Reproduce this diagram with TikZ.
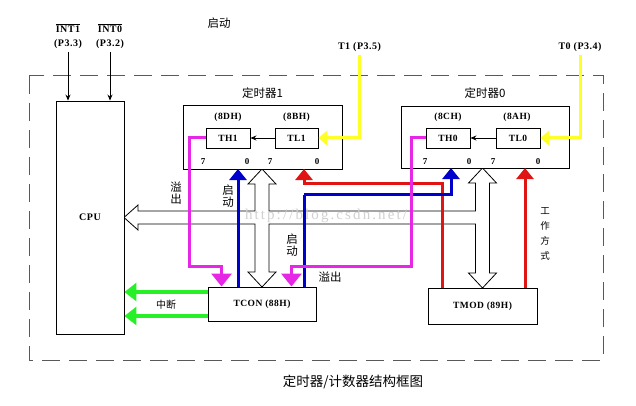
\documentclass[tikz,border=0pt]{standalone}
\usepackage{fontspec}
\setmainfont{Liberation Serif}[LetterSpace=5]
\newfontfamily\cjk{Noto Sans CJK SC}
\newfontfamily\markfont[LetterSpace=14]{Liberation Serif}
\usetikzlibrary{arrows.meta}

\definecolor{wireyellow}{RGB}{255,255,40}
\definecolor{wireblue}{RGB}{0,0,205}
\definecolor{wirered}{RGB}{225,20,20}
\definecolor{wiremagenta}{RGB}{230,40,230}
\definecolor{wiregreen}{RGB}{40,240,40}

\begin{document}
\begin{tikzpicture}[x=1pt, y=-1pt,
    box/.style={draw, line width=0.9pt, fill=white, inner sep=0pt},
    reg/.style={box, minimum width=44pt, minimum height=20pt, font=\fontsize{9.5}{9.5}\selectfont\bfseries},
    addr/.style={font=\fontsize{9.5}{9.5}\selectfont\bfseries},
    bitno/.style={font=\fontsize{9}{9}\selectfont\bfseries},
    pin/.style={font=\fontsize{10}{14}\selectfont\bfseries, align=center},
    zh/.style={font=\cjk\fontsize{11.5}{11.5}\selectfont},
    zhcol/.style={align=center, font=\cjk\fontsize{11.5}{12}\selectfont},
    frame/.style={draw=black!65, line width=1pt, dash pattern=on 18pt off 9pt},
    bus/.style={draw, fill=white, line width=0.8pt, line join=miter},
    pinarrow/.style={line width=0.8pt, -{Stealth[length=6pt,width=5pt]}},
    countwire/.style={wireyellow, line width=3pt, -{Triangle[width=15pt,length=9pt]}},
    runwire/.style={wireblue, line width=3pt, -{Triangle[width=17pt,length=11pt]}},
    modewire/.style={wirered, line width=3pt, -{Triangle[width=17pt,length=11pt]}},
    flowwire/.style={wiremagenta, line width=3pt, -{Triangle[width=20pt,length=13pt]}},
    irqwire/.style={wiregreen, line width=4pt, -{Triangle[width=18pt,length=12pt]}}]

    \useasboundingbox (0,0) rectangle (636,406);

    % board outline
    \draw[frame] (29,76) rectangle (603,360);

    % data bus: CPU <-> timer 1, timer 0, TCON, TMOD
    \draw[bus] (124,217.5) -- (138,205) -- (138,211) -- (255,211) -- (255,184) -- (248,184)
        -- (262,169) -- (276,184) -- (269,184) -- (269,211) -- (475.5,211) -- (475.5,183)
        -- (468.5,183) -- (482.5,168) -- (496.5,183) -- (489.5,183) -- (489.5,273)
        -- (496.5,273) -- (482.5,288) -- (468.5,273) -- (475.5,273) -- (475.5,224)
        -- (269,224) -- (269,272) -- (276,272) -- (262,287) -- (248,272) -- (255,272)
        -- (255,224) -- (138,224) -- (138,230) -- cycle;
    \node[text=black!18, font=\markfont\fontsize{15}{15}\selectfont] (mark) at (326,216) {http://blog.csdn.net/};

    % CPU and control registers
    \node[box, minimum width=68pt, minimum height=233pt, font=\fontsize{10}{10}\selectfont\bfseries] (cpu) at (90,217.5) {CPU};
    \node[box, minimum width=108pt, minimum height=34pt, font=\fontsize{9.5}{9.5}\selectfont\bfseries] (tcon) at (262,304) {TCON (88H)};
    \node[box, minimum width=109pt, minimum height=36pt, font=\fontsize{9.5}{9.5}\selectfont\bfseries] (tmod) at (482.5,306) {TMOD (89H)};

    % timer 1
    \node[box, minimum width=159pt, minimum height=64pt] (t1box) at (262.5,137) {};
    \node[zh] (t1name) at (262.5,93) {定时器1};
    \node[reg] (th1) at (228,138) {TH1};
    \node[reg, minimum width=43pt] (tl1) at (296.5,138) {TL1};
    \node[addr] (th1addr) at (228,117) {(8DH)};
    \node[addr] (tl1addr) at (296.5,117) {(8BH)};

    % timer 0
    \node[box, minimum width=168pt, minimum height=62pt] (t0box) at (485,137) {};
    \node[zh] (t0name) at (485,93) {定时器0};
    \node[reg] (th0) at (448,138) {TH0};
    \node[reg] (tl0) at (518,138) {TL0};
    \node[addr] (th0addr) at (448,117) {(8CH)};
    \node[addr] (tl0addr) at (517,117) {(8AH)};

    \foreach \x/\b [count=\i] in {203/7,247/0,270/7,317/0,425/7,469/0,493/7,538/0}
        \node[bitno] (bit\i) at (\x,162) {\b};

    % pins
    \node[pin] (int1) at (68,36) {$\overline{\mbox{INT1}}$\\(P3.3)};
    \node[pin] (int0) at (110,36) {$\overline{\mbox{INT0}}$\\(P3.2)};
    \node[pin, font=\fontsize{10}{10}\selectfont\bfseries] (t1pin) at (359.5,47) {T1 (P3.5)};
    \node[pin, font=\fontsize{10}{10}\selectfont\bfseries] (t0pin) at (580,47) {T0 (P3.4)};
    \node[zh] (runtop) at (219,23) {启动};

    \draw[pinarrow] (int1.south) -- (int1.south |- cpu.north);
    \draw[pinarrow] (int0.south) -- (int0.south |- cpu.north);

    % counting inputs
    \draw[countwire] (t1pin.south) |- (tl1.east);
    \draw[countwire] (t0pin.south) |- (tl0.east);
    \draw[pinarrow] (tl1.west) -- (th1.east);
    \draw[pinarrow] (tl0.west) -- (th0.east);

    % run control and mode
    \coordinate (run1) at (238,169);
    \coordinate (mode1) at (304,169);
    \coordinate (run0) at (451,168);
    \coordinate (mode0) at (525,168);
    \draw[modewire] ([xshift=15pt]tmod.north west) -- ++(0,-104) -| (mode1);
    \draw[modewire] (tmod.north -| mode0) -- (mode0);
    \draw[runwire] (tcon.north -| run1) -- (run1);
    \draw[runwire, -] (tcon.north -| mode1) -- ++(0,-92) coordinate (bend);
    \draw[runwire] (bend) -| (run0);

    % overflow flags
    \draw[flowwire] (th1.west) -- ++(-16,0) -- ++(0,128) -| ([xshift=14pt]tcon.north west);
    \draw[flowwire] (th0.west) -- ++(-14,0) -- ++(0,128) -| ([xshift=-25pt]tcon.north east);

    % interrupt requests
    \coordinate (irq1) at ([yshift=12pt]tcon.west);
    \coordinate (irq0) at ([yshift=-12pt]tcon.west);
    \draw[irqwire] (irq1) -- (irq1 -| cpu.east);
    \draw[irqwire] (irq0) -- (irq0 -| cpu.east);
    \node[font=\cjk\fontsize{10}{10}\selectfont] (irqtext) at (166,305) {中断};

    % wire labels
    \node[zhcol] (ovftext1) at (176,193) {溢\\出};
    \node[zhcol] (runtext1) at (228,196) {启\\动};
    \node[zhcol] (runtext0) at (292,245) {启\\动};
    \node[zh] (ovftext0) at (330,277) {溢出};
    \node[align=center, font=\cjk\fontsize{9.5}{15}\selectfont] (modetext) at (545,234) {工\\作\\方\\式};

    % caption
    \node[font=\cjk\fontsize{13.5}{13.5}\selectfont] (title) at (353,382) {定时器/计数器结构框图};
\end{tikzpicture}
\end{document}
